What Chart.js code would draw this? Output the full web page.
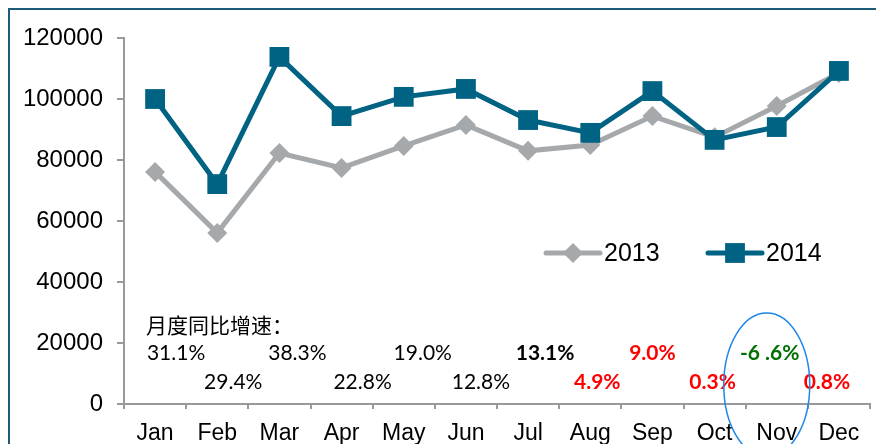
<!DOCTYPE html>
<html>
<head>
<meta charset="utf-8">
<script src="https://cdn.jsdelivr.net/npm/chart.js@4.4.0/dist/chart.umd.min.js"></script>
<style>
  html, body { margin: 0; padding: 0; background: #fff; overflow: hidden; }
  #wrap { position: relative; width: 876px; height: 444px; overflow: hidden; }
  #frame { position: absolute; left: 8px; top: 8px; width: 900px; height: 500px;
           border-left: 2px solid #1d5b78; border-top: 2px solid #1d5b78; }
  #box { position: absolute; left: 0; top: 0; width: 884px; height: 470px; }
</style>
</head>
<body>
<div id="wrap">
  <div id="frame"></div>
  <div id="box"><canvas id="lineChart"></canvas></div>
</div>
<script>
const months = ['Jan', 'Feb', 'Mar', 'Apr', 'May', 'Jun', 'Jul', 'Aug', 'Sep', 'Oct', 'Nov', 'Dec'];
const sales2013 = [76100, 56100, 82300, 77400, 84600, 91500, 83000, 84900, 94400, 87500, 97700, 108500];
const sales2014 = [100000, 72100, 113800, 94400, 100700, 103300, 93100, 88900, 102600, 86600, 90800, 109200];
const yTicks = [0, 20000, 40000, 60000, 80000, 100000, 120000];

// year-on-year growth labels, one per month
const growthText = ['31.1%', '29.4%', '38.3%', '22.8%', '19.0%', '12.8%', '13.1%', '4.9%', '9.0%', '0.3%', '-6 .6%', '0.8%'];
const growthColor = ['#000', '#000', '#000', '#000', '#000', '#000', '#000', '#ff0000', '#ff0000', '#ff0000', '#007000', '#ff0000'];
const growthBold = [false, false, false, false, false, false, true, true, true, true, true, true];
const growthTitle = '月度同比增速：';
// hand placement of the text boxes (px from the month centre)
const growthNudge = [21, 16, 18, 21, 19, 15, 17, 7, 0, -2, -7, -12];

const GRAY = '#a6a9ac';
const TEAL = '#006384';

const overlay = {
  id: 'overlay',
  afterDraw(chart) {
    const ctx = chart.ctx;
    const x = chart.scales.x;
    ctx.save();

    // growth title
    ctx.fillStyle = '#000';
    ctx.textBaseline = 'middle';
    ctx.textAlign = 'left';
    ctx.font = '21px "Noto Sans CJK SC"';
    ctx.fillText(growthTitle, 146, 325);

    // growth values, alternating rows
    ctx.textAlign = 'center';
    growthText.forEach((t, i) => {
      ctx.font = (growthBold[i] ? 'bold ' : '') + '21px Lato';
      ctx.fillStyle = growthColor[i];
      const px = x.getPixelForValue(i) + growthNudge[i];
      const py = i % 2 === 0 ? 353 : 382;
      ctx.fillText(t, px, py);
    });

    // legend
    const legend = [
      { label: '2013', color: GRAY, shape: 'rectRot', r: 10, x0: 546 },
      { label: '2014', color: TEAL, shape: 'rect', r: 14, x0: 708 }
    ];
    legend.forEach(l => {
      ctx.strokeStyle = l.color;
      ctx.lineWidth = 5;
      ctx.lineCap = 'round';
      ctx.beginPath();
      ctx.moveTo(l.x0, 253);
      ctx.lineTo(l.x0 + 54, 253);
      ctx.stroke();
      ctx.fillStyle = l.color;
      Chart.helpers.drawPoint(ctx, { pointStyle: l.shape, radius: l.r, borderWidth: 0 }, l.x0 + 27, 253);
      ctx.fillStyle = '#000';
      ctx.textAlign = 'left';
      ctx.font = '25px "Liberation Sans", Arial';
      ctx.fillText(l.label, l.x0 + 58, 254);
    });

    // ellipse around November
    ctx.strokeStyle = '#1f86ea';
    ctx.lineWidth = 1.5;
    ctx.beginPath();
    ctx.ellipse(x.getPixelForValue(10) - 10, 385, 43, 72, 0, 0, Math.PI * 2);
    ctx.stroke();

    ctx.restore();
  }
};

new Chart(document.getElementById('lineChart').getContext('2d'), {
  type: 'line',
  data: {
    labels: months,
    datasets: [
      {
        label: '2013',
        data: sales2013,
        order: 2,
        borderColor: GRAY,
        backgroundColor: GRAY,
        borderWidth: 5,
        pointStyle: 'rectRot',
        pointRadius: 10,
        pointBorderWidth: 0,
        tension: 0
      },
      {
        label: '2014',
        data: sales2014,
        order: 1,
        borderColor: TEAL,
        backgroundColor: TEAL,
        borderWidth: 5,
        pointStyle: 'rect',
        pointRadius: 14,
        pointBorderWidth: 0,
        tension: 0
      }
    ]
  },
  options: {
    responsive: true,
    maintainAspectRatio: false,
    animation: false,
    layout: { padding: { top: 38, right: 0, left: 0, bottom: 0 } },
    plugins: {
      legend: { display: false },
      tooltip: { enabled: false }
    },
    scales: {
      x: {
        offset: true,
        grid: { display: true, drawOnChartArea: false, offset: true, tickLength: 5, color: '#999', lineWidth: 2 },
        border: { color: '#999', width: 2 },
        ticks: { color: '#000', font: { family: '"Liberation Sans", Arial', size: 23 }, padding: 11, maxRotation: 0 },
        afterFit(scale) { scale.height = 66; }
      },
      y: {
        min: 0,
        max: 120000,
        afterBuildTicks(scale) { scale.ticks = yTicks.map(v => ({ value: v })); },
        grid: { display: true, drawOnChartArea: false, tickLength: 7, color: '#999', lineWidth: 2 },
        border: { color: '#999', width: 2 },
        ticks: {
          color: '#000',
          font: { family: '"Liberation Sans", Arial', size: 24 },
          padding: 14,
          callback: v => String(v)
        },
        afterFit(scale) { scale.width = 124; }
      }
    }
  },
  plugins: [overlay]
});
</script>
</body>
</html>
